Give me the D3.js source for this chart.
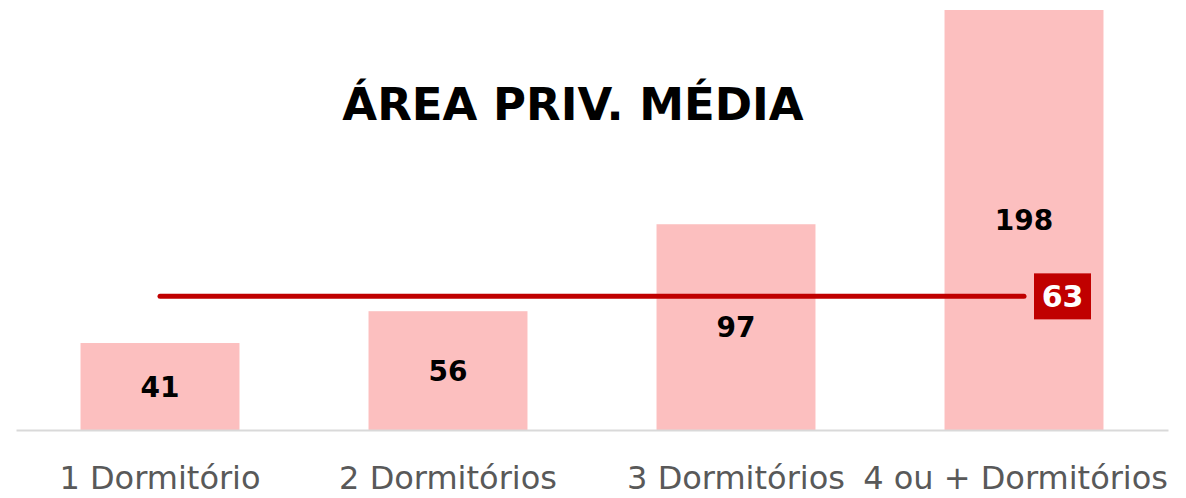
<!DOCTYPE html>
<html>
<head>
<meta charset="utf-8">
<script src="https://cdn.jsdelivr.net/npm/d3@7"></script>
<style>
  body { margin: 0; background: #fff; }
  text { font-family: "DejaVu Sans", Verdana, sans-serif; }
</style>
</head>
<body>
<div class="chart"></div>
<script>
// data
var categories = ["1 Dormitório", "2 Dormitórios", "3 Dormitórios", "4 ou + Dormitórios"];
var areas = [41, 56, 97, 198];
var average = 63;
var title = "ÁREA PRIV. MÉDIA";

var svgWidth = 1186;
var svgHeight = 498;

var svg = d3.select(".chart")
  .append("svg")
  .attr("width", svgWidth)
  .attr("height", svgHeight);

var xScale = d3.scaleBand()
  .domain(categories)
  .range([16, 1168])
  .paddingInner(0.448)
  .paddingOuter(0.224);

var yScale = d3.scaleLinear()
  .domain([0, 198])
  .range([430, 10]);

// bars
svg.selectAll(".bar")
  .data(areas)
  .enter()
  .append("rect")
  .attr("class", "bar")
  .attr("x", (d, i) => xScale(categories[i]))
  .attr("y", d => yScale(d))
  .attr("width", xScale.bandwidth())
  .attr("height", d => yScale(0) - yScale(d))
  .attr("fill", "#fcbfbf");

// axis
var bottomAxis = d3.axisBottom(xScale).tickSize(0).tickPadding(0);
var axisG = svg.append("g")
  .attr("transform", `translate(0, ${yScale(0)})`)
  .call(bottomAxis);
axisG.select(".domain").attr("stroke", "#d9d9d9").attr("stroke-width", 2);
axisG.selectAll(".tick text")
  .attr("font-family", "DejaVu Sans, sans-serif")
  .attr("font-size", "32px")
  .attr("fill", "#595959")
  .attr("dy", "0")
  .attr("y", 59)
  .each(function(d) {
    // keep labels inside the plot edge, like the original does
    var half = this.getComputedTextLength() / 2;
    var cx = xScale(d) + xScale.bandwidth() / 2;
    var over = cx + half - 1168;
    if (over > 0) d3.select(this).attr("x", -over);
  });

// value labels
svg.selectAll(".val")
  .data(areas)
  .enter()
  .append("text")
  .attr("class", "val")
  .attr("x", (d, i) => xScale(categories[i]) + xScale.bandwidth() / 2)
  .attr("y", d => (yScale(d) + yScale(0)) / 2)
  .attr("dy", "0.36em")
  .attr("text-anchor", "middle")
  .attr("font-size", "28px")
  .attr("font-weight", "bold")
  .attr("fill", "#000")
  .text(d => d);

// average line
var x0 = xScale(categories[0]) + xScale.bandwidth() / 2;
var x1 = xScale(categories[categories.length - 1]) + xScale.bandwidth() / 2;
svg.append("line")
  .attr("x1", x0)
  .attr("x2", x1)
  .attr("y1", yScale(average))
  .attr("y2", yScale(average))
  .attr("stroke", "#c00000")
  .attr("stroke-width", 5)
  .attr("stroke-linecap", "round");

svg.append("rect")
  .attr("x", x1 + 10)
  .attr("y", yScale(average) - 23)
  .attr("width", 57)
  .attr("height", 46)
  .attr("fill", "#c00000");

svg.append("text")
  .attr("x", x1 + 10 + 28.5)
  .attr("y", yScale(average))
  .attr("dy", "0.36em")
  .attr("text-anchor", "middle")
  .attr("font-size", "30px")
  .attr("font-weight", "bold")
  .attr("fill", "#fff")
  .text(average);

// title
svg.append("text")
  .attr("x", 573)
  .attr("y", 120)
  .attr("text-anchor", "middle")
  .attr("font-size", "45px")
  .attr("font-weight", "bold")
  .attr("fill", "#000")
  .text(title);
</script>
</body>
</html>
